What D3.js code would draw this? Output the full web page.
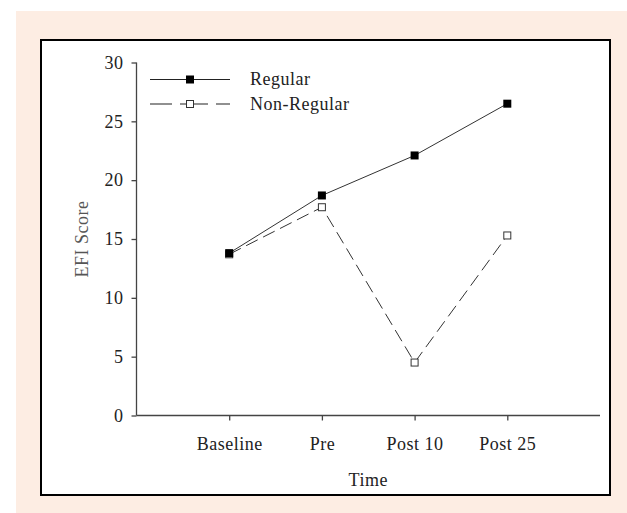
<!DOCTYPE html>
<html>
<head>
<meta charset="utf-8">
<script src="https://cdn.jsdelivr.net/npm/d3@7"></script>
<style>
	body { margin: 0; background: #fff; }
</style>
</head>
<body>
<script>
var categories = ['Baseline', 'Pre', 'Post 10', 'Post 25'];
var regular = [13.8, 18.7, 22.1, 26.5];
var nonRegular = [13.7, 17.7, 4.5, 15.3];
var yTicks = [0, 5, 10, 15, 20, 25, 30];
var seriesNames = ['Regular', 'Non-Regular'];

var width = 627,
	height = 513;
var serif = '"Liberation Serif", "DejaVu Serif", serif';
var fontSize = 18;

var svg = d3.select('body').append('svg')
	.attr('width', width)
	.attr('height', height)
	.attr('font-family', serif)
	.style('letter-spacing', '0.5px');

// peach frame + white box
svg.append('rect')
	.attr('x', 16).attr('y', 11)
	.attr('width', width - 16).attr('height', height - 11)
	.attr('fill', '#fdede3');
svg.append('rect')
	.attr('x', 41).attr('y', 40)
	.attr('width', 569).attr('height', 455)
	.attr('fill', '#fff')
	.attr('stroke', '#000')
	.attr('stroke-width', 2);

// x positions: index 0..5, categories sit on 1..4
var x = d3.scaleLinear().domain([0, 5]).range([136.5, 600]);
var y = d3.scaleLinear().domain([0, 30]).range([415.5, 62.5]);

var axisColor = '#444';

var yAxis = svg.append('g')
	.attr('transform', 'translate(' + x(0) + ',0)')
	.call(d3.axisLeft(y).tickValues(yTicks).tickSize(5).tickPadding(8));

var xAxis = svg.append('g')
	.attr('transform', 'translate(0,' + y(0) + ')')
	.call(d3.axisBottom(x).tickValues([1, 2, 3, 4])
		.tickFormat(function(d){ return categories[d - 1]; })
		.tickSize(5).tickPadding(17));

[yAxis, xAxis].forEach(function(a){
	a.attr('font-family', serif).attr('font-size', fontSize);
	a.select('.domain').attr('stroke', axisColor).attr('stroke-width', 1.3)
		.attr('d', a === yAxis ? 'M0,' + y(30) + 'V' + y(0) : 'M' + x(0) + ',0H' + x(5));
	a.selectAll('.tick line').attr('stroke', axisColor).attr('stroke-width', 1.3);
	a.selectAll('.tick text').attr('fill', '#222');
});

// axis titles
svg.append('text')
	.attr('x', x(2.5))
	.attr('y', 486)
	.attr('text-anchor', 'middle')
	.attr('fill', '#222')
	.attr('font-size', fontSize)
	.text('Time');

svg.append('text')
	.attr('transform', 'translate(88,239) rotate(-90)')
	.attr('text-anchor', 'middle')
	.attr('fill', '#555')
	.attr('font-size', fontSize)
	.text('EFI Score');

var line = d3.line()
	.x(function(d, i){ return x(i + 1); })
	.y(function(d){ return y(d); });

// non-regular (dashed, open squares)
svg.append('path')
	.datum(nonRegular)
	.attr('d', line)
	.attr('fill', 'none')
	.attr('stroke', '#333')
	.attr('stroke-width', 1)
	.attr('stroke-dasharray', '13,6');

svg.append('path')
	.datum(regular)
	.attr('d', line)
	.attr('fill', 'none')
	.attr('stroke', '#333')
	.attr('stroke-width', 1);

svg.selectAll('.nr')
	.data(nonRegular)
	.enter().append('rect')
	.attr('class', 'nr')
	.attr('x', function(d, i){ return x(i + 1) - 3.5; })
	.attr('y', function(d){ return y(d) - 3.5; })
	.attr('width', 7).attr('height', 7)
	.attr('fill', '#fff')
	.attr('stroke', '#333')
	.attr('stroke-width', 1);

svg.selectAll('.rg')
	.data(regular)
	.enter().append('rect')
	.attr('class', 'rg')
	.attr('x', function(d, i){ return x(i + 1) - 4; })
	.attr('y', function(d){ return y(d) - 4; })
	.attr('width', 8).attr('height', 8)
	.attr('fill', '#000');

// legend
var legend = svg.append('g').attr('transform', 'translate(150,79.5)');
seriesNames.forEach(function(name, i){
	var g = legend.append('g').attr('transform', 'translate(0,' + (i * 24.5) + ')');
	g.append('line')
		.attr('x1', 0).attr('x2', 80)
		.attr('stroke', '#222')
		.attr('stroke-width', 1.2)
		.attr('stroke-dasharray', i ? '22,8,6,0' : null);
	if(i){
		g.append('rect').attr('x', 36.5).attr('y', -3.5).attr('width', 7).attr('height', 7)
			.attr('fill', '#fff').attr('stroke', '#333');
	} else {
		g.append('rect').attr('x', 36).attr('y', -4).attr('width', 8).attr('height', 8)
			.attr('fill', '#000');
	}
	g.append('text')
		.attr('x', 100).attr('y', 5.5)
		.attr('fill', '#222')
		.attr('font-size', fontSize)
		.text(name);
});
</script>
</body>
</html>
